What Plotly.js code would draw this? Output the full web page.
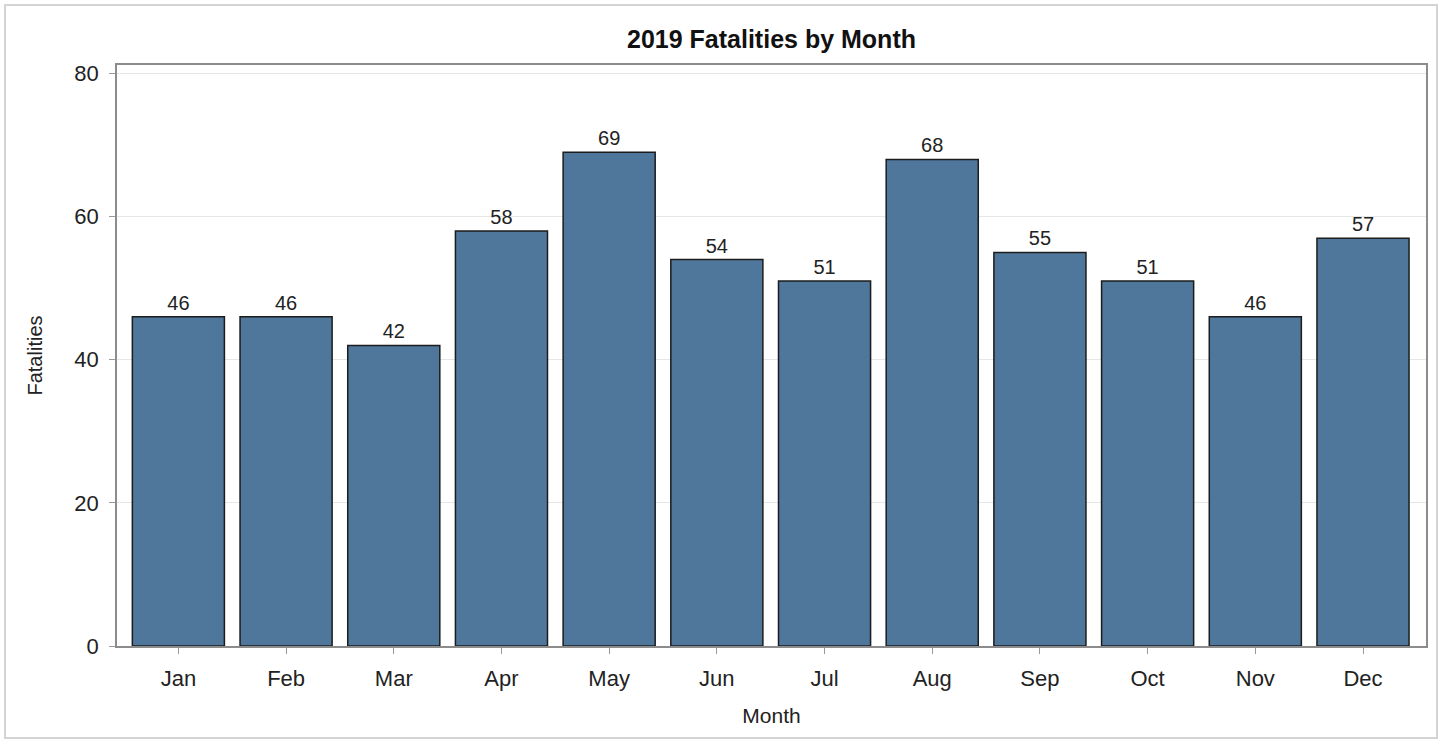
<!DOCTYPE html>
<html>
<head>
<meta charset="utf-8">
<script src="https://cdn.plot.ly/plotly-3.0.1.min.js"></script>
<style>
  html, body { margin: 0; padding: 0; background: #fff; }
  #wrap { position: relative; width: 1447px; height: 746px; }
  #chart { position: absolute; left: 0; top: 0; width: 1447px; height: 746px; }
  #border { position: absolute; left: 4px; top: 4px; width: 1434px; height: 735px;
            border: 2px solid #d4d4d4; pointer-events: none; box-sizing: border-box; }
</style>
</head>
<body>
<div id="wrap">
  <div id="chart"></div>
  <div id="border"></div>
</div>
<script>
const months = ["Jan","Feb","Mar","Apr","May","Jun","Jul","Aug","Sep","Oct","Nov","Dec"];
const fatalities = [46, 46, 42, 58, 69, 54, 51, 68, 55, 51, 46, 57];
const yTicks = [0, 20, 40, 60, 80];

const font = "Liberation Sans, Arial, sans-serif";

const trace = {
  type: "bar",
  x: months,
  y: fatalities,
  width: 0.855,
  marker: { color: "#4f769b", line: { color: "#1c1c1c", width: 1.5 } },
  text: fatalities.map(String),
  textposition: "outside",
  cliponaxis: false,
  textfont: { family: font, size: 20, color: "#222" },
  hoverinfo: "x+y"
};

const layout = {
  width: 1447, height: 746,
  margin: { l: 117, r: 21, t: 65, b: 100, pad: 0 },
  paper_bgcolor: "#fff",
  plot_bgcolor: "#fff",
  showlegend: false,
  title: { text: "<b>2019 Fatalities by Month</b>", x: 0.5, xref: "paper", xanchor: "center",
           y: 0.947, yref: "container", yanchor: "middle",
           font: { family: font, size: 25, color: "#111" } },
  xaxis: {
    type: "category",
    categoryorder: "array", categoryarray: months,
    range: [-0.57, 11.585],
    showgrid: false,
    ticks: "outside", ticklen: 6, tickcolor: "#999", tickwidth: 1,
    ticklabelstandoff: 6,
    showline: true, linecolor: "#8c8c8c", linewidth: 1.5, mirror: true,
    tickfont: { family: font, size: 22, color: "#222" },
    title: { text: "Month", font: { family: font, size: 21, color: "#222" }, standoff: 18 },
    automargin: false
  },
  yaxis: {
    range: [0, 81.2],
    tickvals: yTicks,
    ticktext: yTicks.map(String),
    showgrid: true, gridcolor: "#e6e6e6", gridwidth: 1,
    zeroline: false,
    ticks: "outside", ticklen: 6, tickcolor: "#999", tickwidth: 1,
    ticklabelstandoff: 6,
    showline: true, linecolor: "#8c8c8c", linewidth: 1.5, mirror: true,
    tickfont: { family: font, size: 22, color: "#222" },
    title: { text: "Fatalities", font: { family: font, size: 20, color: "#222" }, standoff: 26 },
    automargin: false
  },
  bargap: 0.145
};

Plotly.newPlot("chart", [trace], layout, { displayModeBar: false, responsive: false });
</script>
</body>
</html>
